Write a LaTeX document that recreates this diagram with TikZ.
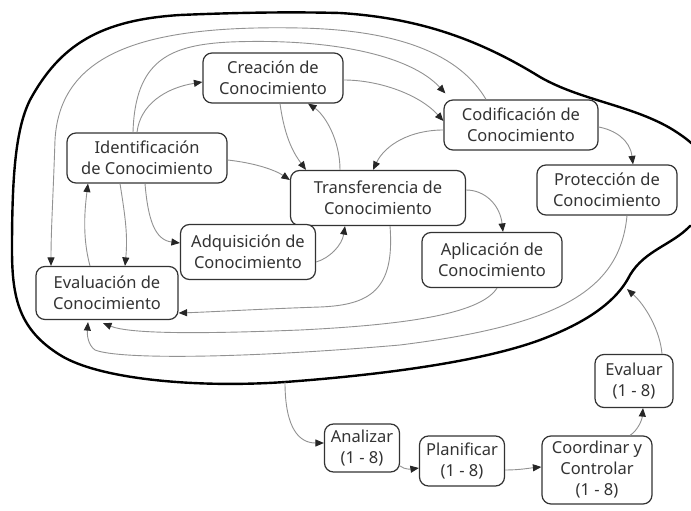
\documentclass[tikz,border=0pt]{standalone}
\usepackage{fontspec}
\setmainfont{Noto Sans}
\usetikzlibrary{arrows.meta}
\definecolor{txt}{HTML}{333333}
\definecolor{lin}{HTML}{929292}
\begin{document}
\begin{tikzpicture}[x=1pt,y=-1pt,
  box/.style={draw=black!80, line width=1.2pt, rounded corners=9pt, align=center,
    text=txt, font=\fontsize{16.5}{21}\selectfont, inner sep=0pt, fill=white},
  conn/.style={draw=lin, line width=0.9pt, -{Triangle[length=8.5pt,width=7pt,color=black!85]}},
  blob/.style={draw=black, line width=2.4pt}]
\path[use as bounding box, clip] (0,0) rectangle (691,511);
\fill[white] (0,0) rectangle (691,511);

% outer blob
\draw[blob] (30,100) .. controls (60,45) and (100,20) .. (180,15)
  .. controls (250,12) and (300,12) .. (340,13)
  .. controls (420,18) and (480,40) .. (540,77)
  .. controls (580,100) and (630,105) .. (670,128)
  .. controls (690,140) and (700,150) .. (705,160)
  .. controls (740,200) and (720,230) .. (690,226)
  .. controls (672,245) and (645,250) .. (630,275)
  .. controls (615,305) and (580,325) .. (540,340)
  .. controls (480,362) and (380,375) .. (285,382)
  .. controls (200,388) and (100,380) .. (60,355)
  .. controls (20,330) and (12,300) .. (12,250)
  .. controls (12,180) and (15,130) .. (30,100) -- cycle;
\coordinate (blobout) at (285,382);
\coordinate (blobin) at (627,289);

% nodes
\node[box, minimum width=140pt, minimum height=50pt] (cre) at (273,78) {Creación de\\Conocimiento};
\node[box, minimum width=154pt, minimum height=50pt] (cod) at (521,125) {Codificación de\\Conocimiento};
\node[box, minimum width=160pt, minimum height=50pt] (ide) at (147,158) {Identificación\\de Conocimiento};
\node[box, minimum width=175pt, minimum height=55pt] (tra) at (378,198) {Transferencia de\\Conocimiento};
\node[box, minimum width=140pt, minimum height=50pt] (pro) at (607,190) {Protección de\\Conocimiento};
\node[box, minimum width=135pt, minimum height=55pt] (adq) at (248,252) {Adquisición de\\Conocimiento};
\node[box, minimum width=140pt, minimum height=55pt] (apl) at (492,260) {Aplicación de\\Conocimiento};
\node[box, minimum width=142pt, minimum height=53pt] (eva) at (107,293) {Evaluación de\\Conocimiento};
\node[box, minimum width=78pt, minimum height=53pt] (evr) at (634,381) {Evaluar\\(1 - 8)};
\node[box, minimum width=75pt, minimum height=48pt] (ana) at (362,448) {Analizar\\(1 - 8)};
\node[box, minimum width=85pt, minimum height=50pt] (pla) at (462,461) {Planificar\\(1 - 8)};
\node[box, minimum width=110pt, minimum height=68pt] (coo) at (597,470) {Coordinar y\\Controlar\\(1 - 8)};

% connectors
\draw[conn] ([xshift=-10pt]ide.north) .. controls (140,105) and (165,88) .. ([yshift=-4pt]cre.west);
\draw[conn] ([xshift=-14pt]ide.north) .. controls (135,60) and (170,45) .. (230,42)
  .. controls (330,38) and (410,55) .. ([xshift=2pt,yshift=6pt]cod.north west);
\draw[conn] ([yshift=-2pt]cre.east) .. controls (380,80) and (420,95) .. ([yshift=4pt]cod.west);
\draw[conn] ([xshift=-35pt]cod.north) .. controls (460,55) and (400,30) .. (300,28)
  .. controls (150,25) and (60,50) .. (55,140)
  .. controls (53,200) and (51,230) .. ([xshift=-56pt]eva.north);
\draw[conn] ([xshift=7pt]cre.south) .. controls (285,140) and (295,155) .. ([xshift=-72pt]tra.north);
\draw[conn] ([xshift=-38pt]tra.north) .. controls (340,140) and (325,115) .. ([xshift=35pt]cre.south);
\draw[conn] ([yshift=-5pt]cod.west) .. controls (410,130) and (385,145) .. ([xshift=-5pt]tra.north);
\draw[conn] ([yshift=-2pt]ide.east) .. controls (255,163) and (275,170) .. ([yshift=18pt]tra.west);
\draw[conn] ([yshift=-2pt]cod.east) .. controls (615,130) and (630,140) .. ([xshift=26pt]pro.north);
\draw[conn] ([yshift=8pt]tra.east) .. controls (485,190) and (500,205) .. ([xshift=11pt]apl.north);
\draw[conn] ([yshift=-10pt]adq.east) .. controls (330,258) and (342,245) .. ([xshift=-33pt]tra.south);
\draw[conn] ([xshift=-2pt]ide.south) .. controls (148,220) and (155,240) .. ([yshift=9pt]adq.west);
\draw[conn] ([xshift=-27pt]ide.south) .. controls (125,215) and (128,235) .. ([xshift=18pt]eva.north);
\draw[conn] ([xshift=-17pt]eva.north) .. controls (83,240) and (84,215) .. ([xshift=-59pt]ide.south);
\draw[conn] ([xshift=12pt]tra.south) .. controls (395,290) and (370,305) .. (320,307)
  .. controls (260,309) and (210,312) .. ([yshift=-20pt]eva.east);
\draw[conn] ([xshift=5pt]apl.south) .. controls (480,315) and (400,325) .. (300,330)
  .. controls (200,334) and (130,334) .. ([xshift=-4pt,yshift=-3pt]eva.south);
\draw[conn] ([xshift=20pt]pro.south) .. controls (620,290) and (560,325) .. (400,345)
  .. controls (250,358) and (120,360) .. (95,350)
  .. controls (88,345) and (87,335) .. ([xshift=-19pt,yshift=-2pt]eva.south);
\draw[conn] (blobout) .. controls (285,430) and (300,443) .. ([yshift=5pt]ana.west);
\draw[conn] ([yshift=-18pt]ana.east) .. controls (405,470) and (412,469) .. ([yshift=-7pt]pla.west);
\draw[conn] ([yshift=-9pt]pla.east) .. controls (520,470) and (530,468) .. ([yshift=3pt]coo.west);
\draw[conn] ([xshift=33pt]coo.north) .. controls (638,430) and (642,420) .. ([xshift=9pt]evr.south);
\draw[conn] ([xshift=28pt]evr.north) .. controls (660,330) and (645,305) .. (blobin);
\end{tikzpicture}
\end{document}
